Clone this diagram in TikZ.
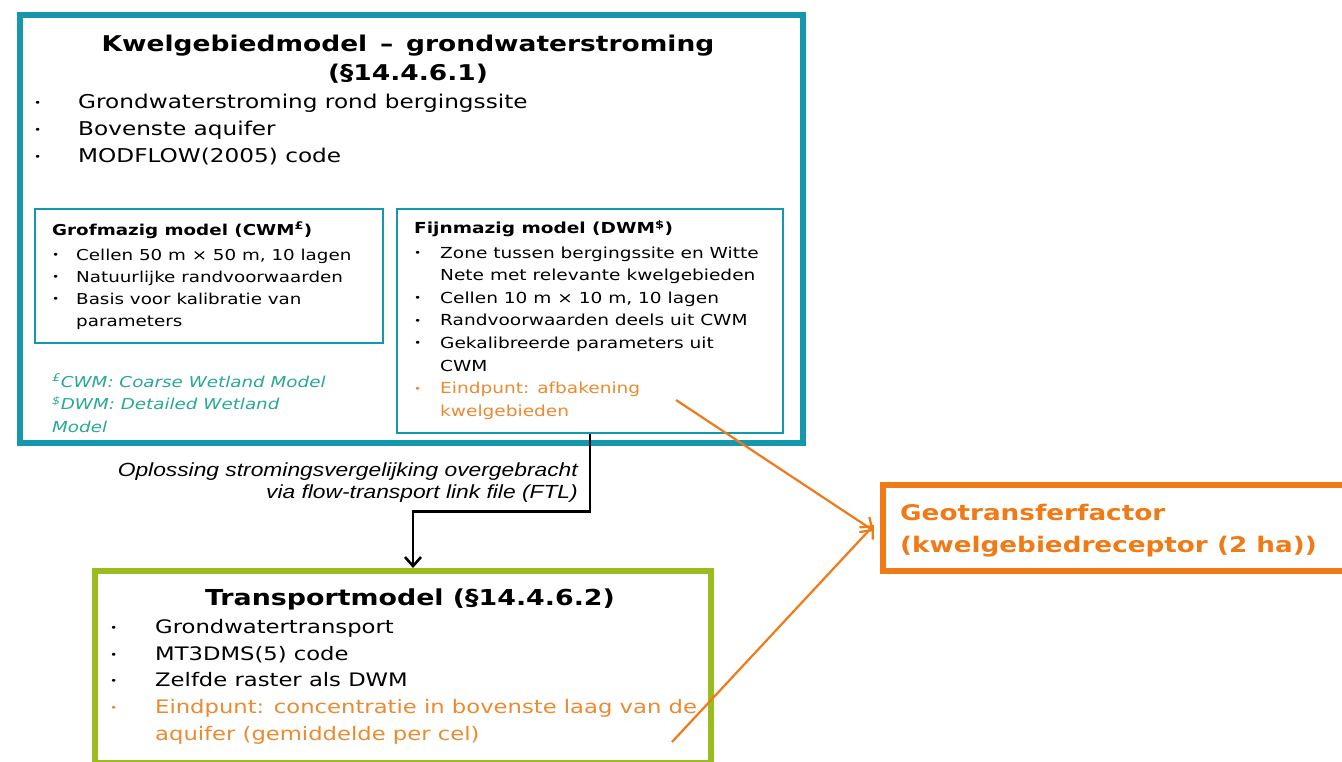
\documentclass[tikz,border=0pt]{standalone}
\usepackage{fontspec}
\usepackage{graphicx}
\setmainfont[FakeStretch=1.22]{DejaVu Sans}
\newfontfamily\arialfont[FakeStretch=1.2]{Liberation Sans}
\usetikzlibrary{arrows.meta}

\definecolor{kwteal}{RGB}{22,152,172}
\definecolor{kwnote}{RGB}{40,168,150}
\definecolor{kwgreen}{RGB}{155,188,30}
\definecolor{kworange}{RGB}{240,122,22}
\definecolor{kworangetxt}{RGB}{236,138,48}

\tikzset{
  bigbox/.style={draw, line width=6pt, inner sep=0pt, anchor=north west},
  subbox/.style={draw=kwteal, line width=1.6pt, inner sep=0pt, anchor=north west},
  txtblock/.style={anchor=north west, inner sep=0pt, align=left},
  flowarrow/.style={line width=2.6pt, -{Straight Barb[length=9pt,width=16pt]}},
  geoarrow/.style={draw=kworange, line width=2.2pt, -{Straight Barb[length=10pt,width=18pt]}},
}
\newcommand{\bul}[2]{\makebox[#1][l]{\raisebox{0.2ex}{\fontsize{10}{10}\selectfont•}}#2}

\begin{document}
\begin{tikzpicture}[x=1pt,y=-1pt]
\useasboundingbox (0,0) rectangle (1342,762);
\clip (0,0) rectangle (1342,762);
\fill[white] (0,0) rectangle (1342,762);

% grondwaterstroming
\node[bigbox, draw=kwteal, minimum width=783pt, minimum height=428pt] (kwel) at (17,12) {};
\node[align=center, font=\bfseries\fontsize{21.7}{29}\selectfont] (kweltitle) at (408,59)
  {Kwelgebiedmodel \,--\, grondwaterstroming\\(\S14.4.6.1)};
\node[txtblock, font=\fontsize{19}{27}\selectfont] (kwellist) at (34,94)
  {\bul{44pt}{Grondwaterstroming rond bergingssite}\\
   \bul{44pt}{Bovenste aquifer}\\
   \bul{44pt}{MODFLOW(2005) code}};

\node[subbox, minimum width=348pt, minimum height=134pt] (grof) at (34,208) {};
\node[txtblock, font=\fontsize{15}{22}\selectfont] (groftext) at (52,222)
  {\textbf{Grofmazig model (CWM\textsuperscript{£})}\\[3pt]
   \bul{24pt}{Cellen 50 m × 50 m, 10 lagen}\\
   \bul{24pt}{Natuurlijke randvoorwaarden}\\
   \bul{24pt}{Basis voor kalibratie van}\\
   \hspace*{24pt}parameters};
\node[txtblock, text=kwnote, font=\itshape\fontsize{15}{22.5}\selectfont] (notes) at (52,374)
  {\textsuperscript{£}CWM: Coarse Wetland Model\\
   \textsuperscript{\$}DWM: Detailed Wetland\\
   Model};

\node[subbox, minimum width=386pt, minimum height=224pt] (fijn) at (396,208) {};
\node[txtblock, font=\fontsize{15.2}{22.6}\selectfont] (fijntext) at (414,220)
  {\textbf{Fijnmazig model (DWM\textsuperscript{\$})}\\[2pt]
   \bul{26pt}{Zone tussen bergingssite en Witte}\\
   \hspace*{26pt}Nete met relevante kwelgebieden\\
   \bul{26pt}{Cellen 10 m × 10 m, 10 lagen}\\
   \bul{26pt}{Randvoorwaarden deels uit CWM}\\
   \bul{26pt}{Gekalibreerde parameters uit}\\
   \hspace*{26pt}CWM\\
   \color{kworangetxt}\bul{26pt}{Eindpunt: afbakening}\\
   \color{kworangetxt}\hspace*{26pt}kwelgebieden};
\coordinate (eindfijn) at (676,400);

% transport
\node[bigbox, draw=kwgreen, minimum width=616pt, minimum height=192pt] (transport) at (92,568) {};
\node[font=\bfseries\fontsize{22}{29}\selectfont] (transtitle) at (410,599) {Transportmodel (\S14.4.6.2)};
\node[txtblock, font=\fontsize{18.6}{26.8}\selectfont] (translist) at (110,619)
  {\bul{45pt}{Grondwatertransport}\\
   \bul{45pt}{MT3DMS(5) code}\\
   \bul{45pt}{Zelfde raster als DWM}\\
   \color{kworangetxt}\bul{45pt}{Eindpunt: concentratie in bovenste laag van de}\\
   \color{kworangetxt}\hspace*{45pt}aquifer (gemiddelde per cel)};
\coordinate (eindtrans) at (672,742);

\draw[flowarrow] (fijn.south) -- ++(0,78) -| ([xshift=10pt]transport.north);
\node[anchor=north east, inner sep=0pt, align=right, font=\arialfont\itshape\fontsize{19}{22}\selectfont] (ftl) at (578,463)
  {Oplossing stromingsvergelijking overgebracht\\via flow-transport link file (FTL)};

% geotransferfactor
\node[bigbox, draw=kworange, minimum width=480pt, minimum height=86pt] (geo) at (880,482) {};
\node[txtblock, text=kworange, font=\bfseries\fontsize{21.5}{32}\selectfont] (geotext) at (900,504)
  {Geotransferfactor\\(kwelgebiedreceptor (2 ha))};

\draw[geoarrow] (eindfijn) -- ([yshift=-3pt,xshift=-6pt]geo.west);
\draw[geoarrow] (eindtrans) -- ([yshift=3pt,xshift=-6pt]geo.west);
\end{tikzpicture}
\end{document}
